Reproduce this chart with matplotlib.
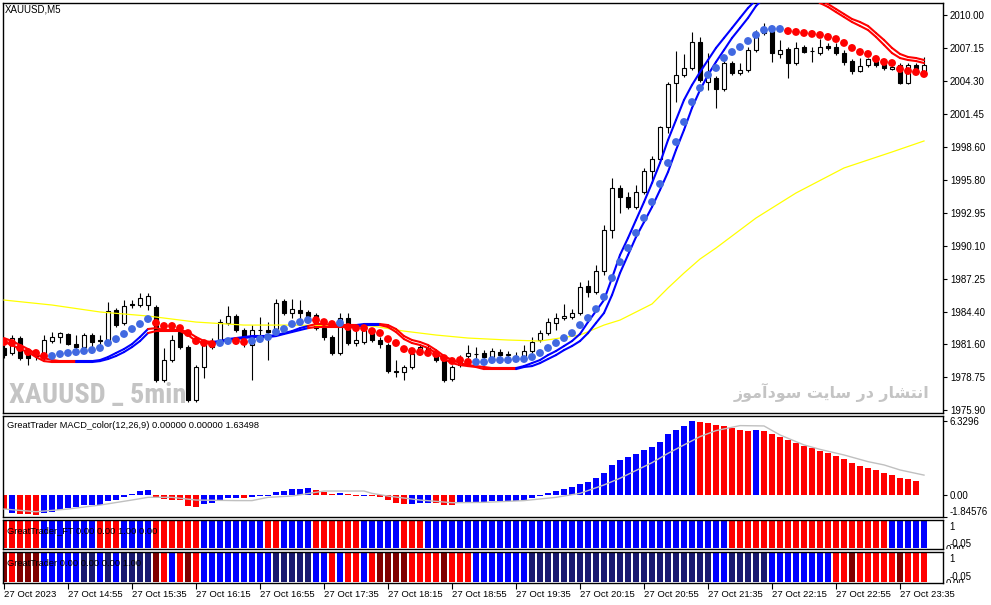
import matplotlib
matplotlib.use('Agg')
import matplotlib.pyplot as plt
import matplotlib.transforms as mtransforms
from matplotlib import font_manager
from matplotlib.collections import LineCollection
import numpy as np

plt.rcParams['font.family'] = ['Liberation Sans', 'DejaVu Sans']
plt.rcParams['font.size'] = 7

# ---- candles, XAUUSD M5, 27 Oct 2023 14:15 .. 23:50 ----
opens = [1981.26, 1980.83, 1982.12, 1980.65, 1980.57, 1980.39, 1981.86, 1982.21, 1982.47, 1981.60,
         1981.34, 1982.38, 1981.95, 1981.69, 1984.54, 1983.42, 1985.06, 1984.97, 1984.97, 1984.80,
         1978.49, 1980.22, 1982.64, 1981.34, 1976.77, 1979.62, 1981.34, 1981.78, 1983.42, 1984.02,
         1982.81, 1981.52, 1982.81, 1982.81, 1982.55, 1985.31, 1984.28, 1984.54, 1984.37, 1984.11,
         1982.98, 1982.21, 1980.83, 1983.85, 1981.69, 1981.78, 1982.81, 1981.95, 1981.52, 1979.27,
         1979.19, 1979.62, 1980.83, 1981.26, 1980.65, 1980.22, 1978.58, 1979.79, 1980.57, 1980.74,
         1980.83, 1980.48, 1980.91, 1980.65, 1980.57, 1980.48, 1981.00, 1981.95, 1982.55, 1983.42,
         1983.85, 1983.93, 1984.28, 1986.61, 1986.09, 1987.91, 1991.44, 1995.07, 1994.29, 1993.43,
         1994.73, 1996.54, 1997.57, 2000.34, 2004.13, 2004.83, 2005.43, 2007.67, 2004.22, 2004.57,
         2003.62, 2005.86, 2005.00, 2005.26, 2006.98, 2008.45, 2008.71, 2006.64, 2007.07, 2005.86,
         2007.24, 2006.90, 2006.72, 2007.33, 2007.24, 2006.72, 2006.03, 2005.17, 2005.69, 2006.03,
         2005.86, 2005.34, 2005.69, 2004.13, 2005.69, 2005.08]
highs = [1981.52, 1982.38, 1982.29, 1980.91, 1981.08, 1982.38, 1982.64, 1982.64, 1982.55, 1982.38,
         1982.55, 1982.55, 1982.38, 1985.23, 1984.71, 1985.40, 1985.40, 1986.00, 1986.00, 1984.97,
         1981.26, 1982.38, 1982.90, 1981.52, 1979.79, 1981.95, 1982.12, 1983.76, 1984.88, 1984.19,
         1982.98, 1983.24, 1983.93, 1983.50, 1985.49, 1985.49, 1985.49, 1985.40, 1984.54, 1984.28,
         1983.16, 1982.38, 1984.28, 1984.28, 1983.07, 1983.24, 1982.98, 1982.21, 1981.69, 1980.22,
         1979.79, 1981.08, 1981.52, 1981.52, 1980.91, 1980.39, 1979.79, 1980.65, 1981.52, 1981.34,
         1981.08, 1981.26, 1981.17, 1981.00, 1980.91, 1981.52, 1982.21, 1982.81, 1983.85, 1984.28,
         1985.06, 1984.62, 1986.96, 1987.13, 1988.42, 1991.88, 1995.93, 1995.33, 1994.73, 1995.33,
         1996.80, 1997.83, 2000.42, 2004.22, 2006.90, 2006.64, 2008.54, 2008.11, 2006.72, 2004.74,
         2006.38, 2006.03, 2005.86, 2007.24, 2008.71, 2009.31, 2008.88, 2007.85, 2007.24, 2007.67,
         2007.42, 2007.24, 2007.93, 2007.59, 2007.59, 2006.98, 2006.21, 2006.29, 2006.29, 2006.12,
         2006.03, 2005.69, 2005.86, 2005.86, 2005.86, 2006.38]
lows = [1980.39, 1980.65, 1980.22, 1979.79, 1980.22, 1980.22, 1981.69, 1981.69, 1981.52, 1981.08,
        1981.08, 1981.08, 1981.08, 1981.52, 1983.07, 1983.24, 1984.71, 1984.80, 1984.54, 1978.32,
        1978.32, 1980.05, 1981.17, 1976.60, 1976.60, 1978.67, 1981.17, 1981.60, 1983.24, 1982.64,
        1981.34, 1978.49, 1981.95, 1980.22, 1982.38, 1984.11, 1983.85, 1983.50, 1983.85, 1982.81,
        1981.95, 1980.65, 1980.65, 1981.52, 1981.43, 1981.60, 1981.78, 1981.26, 1979.10, 1978.75,
        1978.49, 1979.44, 1980.65, 1980.65, 1980.05, 1978.32, 1978.41, 1979.62, 1980.39, 1979.96,
        1980.31, 1980.31, 1980.48, 1980.48, 1980.39, 1980.31, 1980.83, 1981.78, 1982.38, 1982.81,
        1983.67, 1983.76, 1984.11, 1985.66, 1985.92, 1987.56, 1990.75, 1992.91, 1993.26, 1993.26,
        1994.55, 1995.50, 1997.40, 1999.82, 2002.49, 2004.65, 2005.26, 2004.22, 2003.53, 2001.98,
        2003.44, 2004.83, 2004.83, 2005.08, 2006.81, 2008.28, 2005.95, 2006.29, 2004.57, 2005.69,
        2006.72, 2005.95, 2006.55, 2006.98, 2006.55, 2005.69, 2004.91, 2005.08, 2005.52, 2005.52,
        2005.26, 2005.26, 2004.05, 2004.05, 2005.17, 2004.91]
closes = [1980.65, 1982.12, 1980.39, 1980.39, 1980.74, 1981.95, 1982.21, 1982.55, 1981.60, 1981.34,
          1982.38, 1981.78, 1981.86, 1984.45, 1983.24, 1984.88, 1984.97, 1985.57, 1985.75, 1978.49,
          1980.22, 1981.95, 1981.34, 1976.77, 1979.62, 1981.69, 1981.86, 1983.50, 1984.02, 1982.81,
          1982.21, 1982.81, 1982.78, 1982.64, 1985.14, 1984.28, 1984.62, 1984.28, 1984.02, 1982.98,
          1982.21, 1980.83, 1983.85, 1981.69, 1981.95, 1982.81, 1981.95, 1981.60, 1979.27, 1979.19,
          1979.62, 1980.74, 1981.34, 1980.91, 1980.22, 1978.49, 1979.62, 1980.39, 1980.83, 1980.72,
          1980.48, 1981.00, 1980.65, 1980.74, 1980.55, 1981.00, 1981.78, 1982.55, 1983.50, 1983.85,
          1984.02, 1984.28, 1986.52, 1986.09, 1987.91, 1991.44, 1995.07, 1994.29, 1993.43, 1994.73,
          1996.54, 1997.57, 2000.34, 2004.05, 2004.83, 2005.43, 2007.67, 2004.39, 2004.83, 2003.62,
          2005.86, 2005.00, 2005.26, 2006.98, 2008.45, 2008.71, 2006.72, 2006.98, 2005.86, 2007.16,
          2006.81, 2006.88, 2007.24, 2007.16, 2006.72, 2005.95, 2005.17, 2005.60, 2006.21, 2005.69,
          2005.43, 2005.52, 2004.13, 2005.69, 2005.26, 2005.69]

# dotted trend indicator (one dot per bar) and its colour state
dots = [1981.78, 1981.69, 1981.26, 1980.91, 1980.83, 1980.57, 1980.57, 1980.74, 1980.83, 1980.91,
        1981.00, 1981.08, 1981.26, 1981.69, 1982.03, 1982.47, 1982.90, 1983.33, 1983.76, 1983.42,
        1983.16, 1983.16, 1982.98, 1982.55, 1981.86, 1981.69, 1981.60, 1981.69, 1981.86, 1981.86,
        1981.78, 1981.86, 1982.03, 1982.21, 1982.64, 1982.90, 1983.33, 1983.50, 1983.67, 1983.67,
        1983.50, 1983.33, 1983.42, 1983.07, 1982.98, 1982.98, 1982.72, 1982.55, 1982.03, 1981.69,
        1981.17, 1981.00, 1980.91, 1980.83, 1980.74, 1980.39, 1980.14, 1980.22, 1980.05, 1980.05,
        1980.05, 1980.22, 1980.22, 1980.22, 1980.31, 1980.31, 1980.48, 1980.83, 1981.26, 1981.69,
        1982.12, 1982.55, 1983.24, 1983.85, 1984.62, 1985.66, 1987.30, 1988.68, 1989.89, 1991.19,
        1992.48, 1993.86, 1995.42, 1997.23, 1999.04, 2000.77, 2002.49, 2003.70, 2004.83, 2005.43,
        2006.29, 2006.81, 2007.24, 2007.76, 2008.28, 2008.71, 2008.80, 2008.80, 2008.62, 2008.54,
        2008.45, 2008.37, 2008.28, 2008.11, 2007.93, 2007.59, 2007.16, 2006.81, 2006.64, 2006.21,
        2005.95, 2005.86, 2005.34, 2005.17, 2005.08, 2004.91]
dot_state = ("RRRRRRBBBB" "BBBBBBBBBR" "RRRRRRRBBR" "RBBBBBBBBR" "RRBRRRRRRR"
             "RRRRRRRRRB" "BBBBBBBBBB" "BBBBBBBBBB" "BBBBBBBBBB" "BBBBBBBBRR"
             "RRRRRRRRRR" "RRRRRR")

# double moving-average band
band_up = [1982.12, 1981.86, 1981.52, 1981.17, 1980.74, 1980.39, 1980.22, 1980.13, 1980.13, 1980.13,
           1980.13, 1980.13, 1980.22, 1980.48, 1980.83, 1981.17, 1981.60, 1982.21, 1982.90, 1982.98,
           1982.81, 1982.81, 1982.81, 1982.64, 1982.21, 1981.86, 1981.78, 1981.86, 1982.03, 1982.12,
           1982.21, 1982.29, 1982.29, 1982.29, 1982.38, 1982.55, 1982.72, 1982.98, 1983.16, 1983.33,
           1983.33, 1983.24, 1983.24, 1983.24, 1983.24, 1983.33, 1983.33, 1983.33, 1983.24, 1982.90,
           1982.29, 1981.95, 1981.78, 1981.52, 1981.08, 1980.57, 1980.22, 1979.96, 1979.79, 1979.70,
           1979.62, 1979.53, 1979.53, 1979.53, 1979.53, 1979.70, 1979.96, 1980.22, 1980.65, 1981.00,
           1981.43, 1981.86, 1982.47, 1983.50, 1984.45, 1985.40, 1987.30, 1989.29, 1990.75, 1992.31,
           1993.86, 1995.50, 1997.23, 1999.21, 2000.94, 2002.67, 2003.96, 2005.08, 2006.12, 2007.16,
           2008.02, 2008.88, 2009.75, 2010.61, 2011.30, 2011.99, 2012.51, 2012.85, 2012.85, 2012.68,
           2012.34, 2011.82, 2011.30, 2010.95, 2010.52, 2010.09, 2009.66, 2009.40, 2009.06, 2008.45,
           2007.85, 2007.16, 2006.64, 2006.38, 2006.29, 2006.12]
band_lo = [1981.78, 1981.52, 1981.17, 1980.91, 1980.48, 1980.13, 1980.05, 1980.05, 1980.05, 1980.05,
           1980.05, 1980.05, 1980.13, 1980.31, 1980.57, 1980.91, 1981.34, 1981.86, 1982.55, 1982.72,
           1982.72, 1982.72, 1982.72, 1982.38, 1981.86, 1981.69, 1981.69, 1981.78, 1981.95, 1982.03,
           1982.12, 1982.21, 1982.21, 1982.21, 1982.29, 1982.47, 1982.64, 1982.81, 1982.98, 1983.07,
           1983.07, 1983.07, 1983.07, 1983.07, 1983.07, 1983.24, 1983.24, 1983.24, 1983.07, 1982.64,
           1982.03, 1981.69, 1981.52, 1981.26, 1980.83, 1980.31, 1979.96, 1979.79, 1979.70, 1979.62,
           1979.44, 1979.44, 1979.44, 1979.44, 1979.44, 1979.62, 1979.70, 1979.96, 1980.31, 1980.65,
           1981.08, 1981.43, 1981.86, 1982.55, 1983.42, 1984.28, 1985.83, 1987.73, 1989.29, 1990.84,
           1992.13, 1993.43, 1994.90, 1996.45, 1998.35, 2000.08, 2001.98, 2003.53, 2004.83, 2005.95,
           2006.98, 2008.02, 2008.88, 2009.75, 2010.78, 2011.47, 2011.99, 2012.34, 2012.51, 2012.34,
           2011.99, 2011.56, 2011.04, 2010.70, 2010.26, 2009.83, 2009.40, 2009.06, 2008.71, 2008.11,
           2007.42, 2006.72, 2006.29, 2006.12, 2006.03, 2005.86]
band_state = ("RRRRRRRRRR" "BBBBBBBBBR" "RRRRRRRBBB" "BBBBBBBBBR" "RRRRRBBBRR"
              "RRRRRRRRRR" "RRRRRBBBBB" "BBBBBBBBBB" "BBBBBBBBBB" "BBBBBBBBRR"
              "RRRRRRRRRR" "RRRRRR")

# slow yellow MA, read at a few bars
ma_bar = [0, 6, 12, 18, 24, 30, 36, 42, 46, 50, 54, 58, 63, 67, 72, 75, 77, 81, 83, 85,
          87, 89, 94, 99, 105, 111, 115]
ma_val = [1985.40, 1984.97, 1984.37, 1984.02, 1983.50, 1983.24, 1983.24, 1983.16, 1983.16, 1982.72,
          1982.38, 1982.12, 1981.95, 1981.86, 1982.38, 1983.24, 1983.67, 1985.06, 1986.44, 1987.73,
          1988.94, 1989.89, 1992.48, 1994.64, 1996.80, 1998.18, 1999.13]

# MACD_color histogram (last bar empty) and signal line
macd = [-1.20, -1.51, -1.62, -1.65, -1.68, -1.57, -1.43, -1.28, -1.14, -1.00,
        -0.86, -0.86, -0.84, -0.48, -0.43, -0.14, 0.09, 0.34, 0.43, -0.20,
        -0.34, -0.43, -0.43, -0.94, -1.00, -0.80, -0.66, -0.51, -0.29, -0.29,
        -0.29, -0.20, -0.09, -0.08, 0.29, 0.37, 0.51, 0.48, 0.63, 0.43,
        0.29, 0.09, 0.14, 0.09, -0.09, -0.09, -0.09, -0.14, -0.43, -0.66,
        -0.77, -0.77, -0.66, -0.66, -0.68, -0.86, -0.86, -0.71, -0.71, -0.71,
        -0.57, -0.51, -0.51, -0.51, -0.51, -0.43, -0.29, -0.09, 0.20, 0.34,
        0.51, 0.71, 0.94, 1.14, 1.45, 1.91, 2.57, 2.99, 3.28, 3.51,
        3.85, 4.13, 4.56, 5.19, 5.56, 5.93, 6.33, 6.21, 6.13, 5.99,
        5.93, 5.76, 5.56, 5.50, 5.56, 5.47, 5.19, 4.93, 4.70, 4.42,
        4.19, 3.99, 3.76, 3.56, 3.33, 3.08, 2.71, 2.48, 2.28, 2.14,
        1.85, 1.68, 1.48, 1.37, 1.23]
macd_state = ("RBRRRBBBBB" "BBBBBBBBBR" "RRRRRBBBBB" "RBBBBBBBBR" "RRBRRBRRRR"
              "RBBBRRRBBB" "BBBBBBBBBB" "BBBBBBBBBB" "BBBBBBBRRR" "RRRRBRRRRR"
              "RRRRRRRRRR" "RRRRR")
sig_bar = [0, 4, 8, 12, 16, 18, 21, 24, 29, 31, 33, 36, 40, 45, 46, 48, 52, 56, 60, 65,
           69, 72, 75, 77, 81, 83, 85, 87, 89, 92, 95, 97, 100, 102, 105, 108, 110, 112, 115]
sig_val = [-1.20, -1.43, -1.20, -0.86, -0.43, -0.20, -0.20, -0.43, -0.48, -0.48,
           -0.20, -0.09, 0.34, 0.34, 0.14, -0.09, -0.43, -0.66, -0.63, -0.48,
           -0.20, 0.14, 0.86, 1.43, 2.76, 3.56, 4.28, 4.99, 5.50, 5.93,
           5.90, 5.13, 4.28, 3.90, 3.42, 2.85, 2.57, 2.14, 1.70]

# GreatTrader_FT (R/B) and GreatTrader (r red, d dark red, b blue, n navy)
ft_state = ("RRRRRBBBBB" "BBRRRBBBBR" "RRRRRBBBBB" "BBBRRBBBBR" "RRRRRBBBBB"
            "RRRBBBBBBB" "BBBBBBBBBB" "BBBBBBBBBB" "BBBBBBBBBB" "BRRRRRRRRR"
            "RRRRRRRRRR" "RBBBBB")
gt_state = ("drdddbbbbb" "nnbnbnnnnd" "rbrdrbbbbb" "bbbbnnnnnb" "brbrrbrddd"
            "drrrrdrrrb" "bbbbbbnnnn" "nnnnnnnnnn" "nnnnnnnnnb" "bnnnnnbbbb"
            "bbbbrrdrrr" "rrdrrr")

price_ticks = [2010.00, 2007.15, 2004.30, 2001.45, 1998.60, 1995.80, 1992.95,
               1990.10, 1987.25, 1984.40, 1981.60, 1978.75, 1975.90]
time_labels = ["27 Oct 2023", "27 Oct 14:55", "27 Oct 15:35", "27 Oct 16:15", "27 Oct 16:55",
               "27 Oct 17:35", "27 Oct 18:15", "27 Oct 18:55", "27 Oct 19:35", "27 Oct 20:15",
               "27 Oct 20:55", "27 Oct 21:35", "27 Oct 22:15", "27 Oct 22:55", "27 Oct 23:35"]

colmap = {'R': '#FF0000', 'B': '#0000FF', 'r': '#FF0000', 'd': '#800000',
          'b': '#0000FF', 'n': '#191970'}

W, H = 991, 605
fig = plt.figure(figsize=(W / 100, H / 100), dpi=100)


def panel(top, bottom):
    ax = fig.add_axes([3 / W, 1 - bottom / H, 940 / W, (bottom - top) / H])
    ax.set_xlim(-0.125, 117.375)
    ax.set_xticks([])
    ax.yaxis.tick_right()
    ax.tick_params(axis='y', direction='out', length=3, width=0.8, pad=2, labelsize=7)
    for s in ax.spines.values():
        s.set_linewidth(1.0)
    return ax


ax = panel(3, 413)
ax_macd = panel(416, 517)
ax_ft = panel(520, 549)
ax_gt = panel(552, 583)

x = np.arange(len(opens))
o = np.array(opens)
c = np.array(closes)

# main chart
ax.set_ylim(1975.65, 2011.04)
ax.set_yticks(price_ticks)
ax.set_yticklabels(["%.2f" % p for p in price_ticks])

ax.vlines(x, lows, highs, color='black', lw=0.8, zorder=2)
body_lo = np.minimum(o, c)
body_h = np.maximum(np.abs(c - o), 0.02)
ax.bar(x, body_h, width=0.6, bottom=body_lo, color=np.where(c >= o, 'white', 'black'),
       edgecolor='black', linewidth=0.8, zorder=3)

ax.plot(ma_bar, ma_val, color='#FFFF00', lw=0.9, zorder=4)

for band in (band_up, band_lo):
    segs = [[(i, band[i]), (i + 1, band[i + 1])] for i in range(len(band) - 1)]
    cols = [colmap[band_state[i + 1]] for i in range(len(band) - 1)]
    ax.add_collection(LineCollection(segs, colors=cols, linewidths=1.5, zorder=5,
                                     capstyle='round'))

dot_cols = [('#4169E1' if s == 'B' else '#FF0000') for s in dot_state]
ax.scatter(x, dots, s=32, c=dot_cols, edgecolors='none', zorder=6)

# watermarks: pick a narrow face if one is installed, then fit to the width seen
installed = {f.name for f in font_manager.fontManager.ttflist}
narrow = [n for n in ('Liberation Sans Narrow', 'DejaVu Sans Condensed', 'Roboto Condensed')
          if n in installed]
wm = ax.text(0.006, 0.042, "XAUUSD _ 5min", transform=ax.transAxes, fontsize=21,
             fontweight='bold', color='#c4c4c4', family=narrow + ['Liberation Sans'],
             va='center', ha='left', zorder=1)
# Persian watermark, written in visual order with presentation forms
fa_text = ("\uFEAF\uFEEE\uFEE3\uFE81\uFEA9\uFEEE\uFEB3 \uFE96\uFEF3\uFE8E\uFEB3 "
           "\uFEAD\uFEA9 \uFEAD\uFE8E\uFEB8\uFE98\uFEE7\uFE8D")
fa = ax.text(0.986, 0.05, fa_text, transform=ax.transAxes, fontsize=13, fontweight='bold',
             color='#c4c4c4', family=['DejaVu Sans'], va='center', ha='right', zorder=1)

fig.text(5 / W, 1 - 10 / H, "XAUUSD,M5", fontsize=7, va='center')

# MACD
m = np.array(macd)
ax_macd.bar(x[:len(m)], m, width=0.84, color=[colmap[s] for s in macd_state], zorder=2)
ax_macd.plot(sig_bar, sig_val, color='#C0C0C0', lw=1.0, zorder=3)
ax_macd.set_ylim(-1.88, 6.75)
ax_macd.set_yticks([6.3296, 0.0, -1.84576])
lbl = ax_macd.set_yticklabels(["6.3296", "0.00", "-1.84576"])
lbl[2].set_va('bottom')
fig.text(7 / W, 1 - 425 / H, "GreatTrader MACD_color(12,26,9) 0.00000 0.00000 1.63498",
         fontsize=6.7, va='center')

# FT and GreatTrader colour rows
for a, state, name, top, bottom in (
        (ax_ft, ft_state, "GreatTrader_FT 0.00 0.00 1.00 0.00", 520, 549),
        (ax_gt, gt_state, "GreatTrader 0.00 0.00 0.00 1.00", 552, 583)):
    a.bar(x, np.ones(len(state)), width=0.84, color=[colmap[s] for s in state], zorder=2)
    a.set_ylim(-0.04, 1.04)
    a.set_yticks([])
    a.text(0.004, 0.62, name, transform=a.transAxes, fontsize=6.7, va='center', zorder=3)
    a.text(1.007, 0.76, "1", transform=a.transAxes, fontsize=7, va='center', clip_on=False)
    a.text(1.007, 0.18, "-0.05", transform=a.transAxes, fontsize=7, va='center', clip_on=False)
    # the "0.00" label sits half below the sub-window edge, so only its top shows
    zero = a.text(1.003, -0.02, "0.00", transform=a.transAxes, fontsize=7, va='center')
    clip = mtransforms.TransformedBbox(
        mtransforms.Bbox([[943 / W, 1 - bottom / H], [1.0, 1 - top / H]]), fig.transFigure)
    zero.set_clip_box(clip)
    zero.set_clip_on(True)

# time axis
ax_gt.set_xticks(np.arange(0, len(opens), 8)[:len(time_labels)])
ax_gt.set_xticklabels(time_labels, ha='left', fontsize=6.8)
ax_gt.tick_params(axis='x', direction='out', length=4, width=0.8, pad=1)

fig.canvas.draw()
r = fig.canvas.get_renderer()
wm.set_fontsize(min(21, 21 * 177 / wm.get_window_extent(r).width))
fa.set_fontsize(13 * 195 / fa.get_window_extent(r).width)

fig.savefig("out.png", dpi=100, facecolor='white')
